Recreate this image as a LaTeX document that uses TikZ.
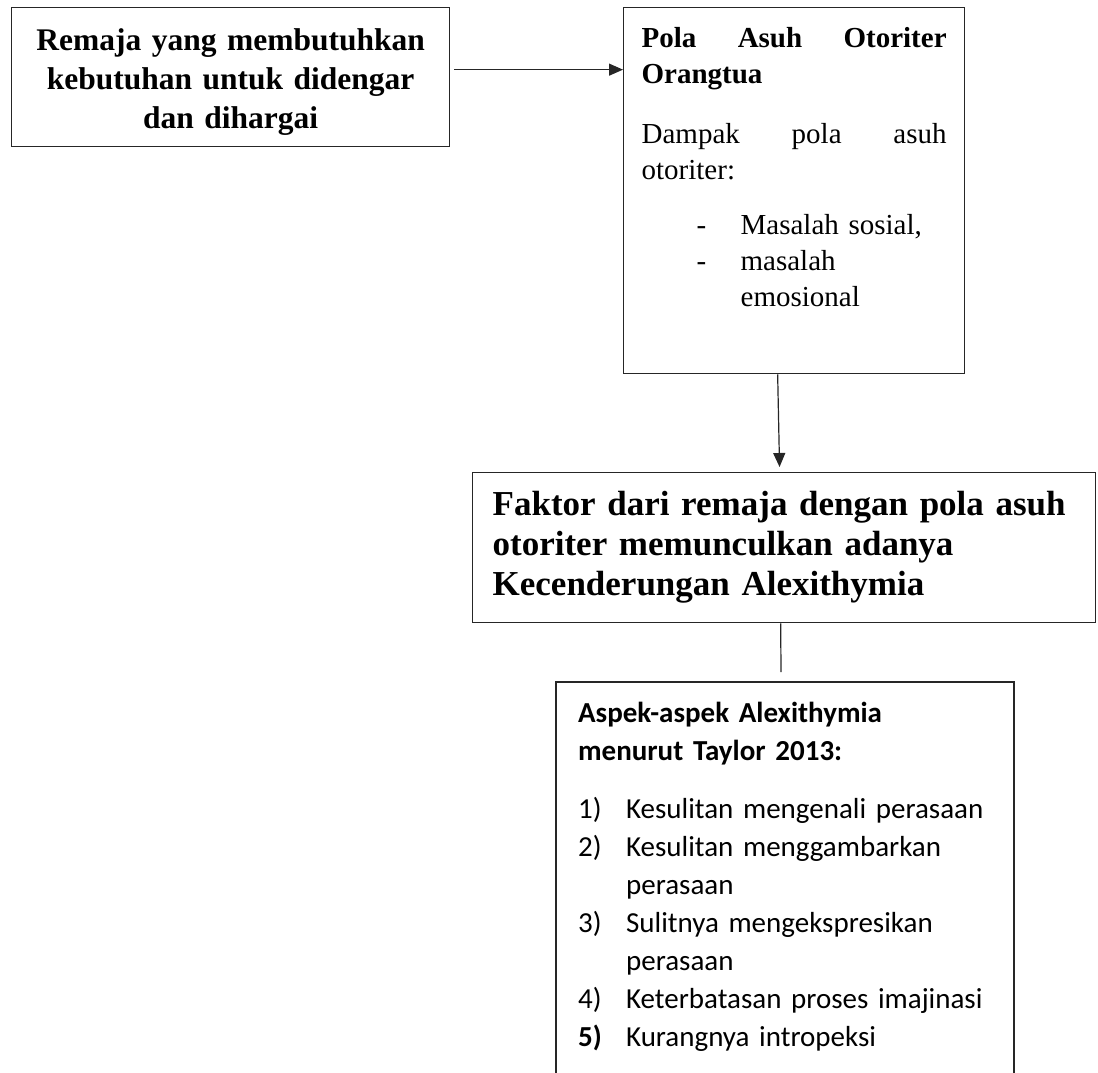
\documentclass[tikz,border=0pt]{standalone}
\usepackage{fontspec}
\setmainfont{Liberation Serif}
\newfontfamily\calibrifont{Carlito}
\usetikzlibrary{positioning,arrows.meta}
\tikzset{
  kotak/.style={draw=black!85, line width=1.3pt, anchor=north west, inner ysep=0pt},
  kotaktebal/.style={kotak, line width=2.2pt},
  panah/.style={black!85, line width=1.2pt, -{Triangle[width=12pt,length=14pt]}},
  garis/.style={black!85, line width=1.2pt},
}

\begin{document}
\begin{tikzpicture}[x=1pt,y=-1pt]
  \useasboundingbox (0,0) rectangle (1098,1072);
  \clip (0,0) rectangle (1098,1072);
  % kotak kiri atas
  \node[kotak, text width=410pt, inner xsep=14pt, text height=43pt, text depth=96pt, align=center,
        font=\fontsize{31.5}{39}\selectfont\bfseries] (remaja) at (11,7)
    {Remaja yang membutuhkan\\ kebutuhan untuk didengar\\ dan dihargai};
  % pola asuh otoriter
  \node[kotak, text width=305pt, inner xsep=18pt, inner ysep=10pt, text height=29.5pt,
        text depth=316.5pt, align=left, font=\fontsize{29}{36}\selectfont] (polaasuh) at (623,7)
    {\textbf{Pola\hfill Asuh\hfill Otoriter}\\
     \textbf{Orangtua}\\[24pt]
     Dampak\hfill pola\hfill asuh\\
     otoriter:\\[19pt]
     \makebox[99pt][l]{\hspace*{55pt}-}Masalah sosial,\\
     \makebox[99pt][l]{\hspace*{55pt}-}masalah\\
     \hspace*{99pt}emosional};
  % faktor
  \node[kotak, text width=583pt, inner xsep=20pt, minimum height=150pt, align=left,
        font=\fontsize{35}{40}\selectfont\bfseries] (faktor) at (472,472)
    {Faktor dari remaja dengan pola asuh\\ otoriter memunculkan adanya\\ Kecenderungan Alexithymia};
  % aspek alexithymia (bawahnya terpotong)
  \node[kotaktebal, text width=414pt, inner xsep=22pt, inner ysep=10pt, text height=30pt,
        text depth=359pt, align=left, font=\calibrifont\fontsize{29}{38}\selectfont] (aspek) at (555,681)
    {\textbf{Aspek-aspek Alexithymia}\\
     \textbf{menurut Taylor 2013:}\\[20pt]
     \makebox[48pt][l]{1)}Kesulitan mengenali perasaan\\
     \makebox[48pt][l]{2)}Kesulitan menggambarkan\\
     \hspace*{48pt}perasaan\\
     \makebox[48pt][l]{3)}Sulitnya mengekspresikan\\
     \hspace*{48pt}perasaan\\
     \makebox[48pt][l]{4)}Keterbatasan proses imajinasi\\
     \makebox[48pt][l]{\textbf{5)}}Kurangnya intropeksi};
  % penghubung
  \draw[panah, shorten <=4pt] ([yshift=7.5pt]remaja.east) -- ([yshift=7.5pt]remaja.east -| polaasuh.west);
  \draw[panah, shorten >=5pt] ([xshift=-16.5pt]polaasuh.south) -- ([xshift=-4.5pt]faktor.north);
  \draw[garis, shorten >=9pt] ([xshift=-3.5pt]faktor.south) -- ([xshift=-4pt]aspek.north);
\end{tikzpicture}
\end{document}
